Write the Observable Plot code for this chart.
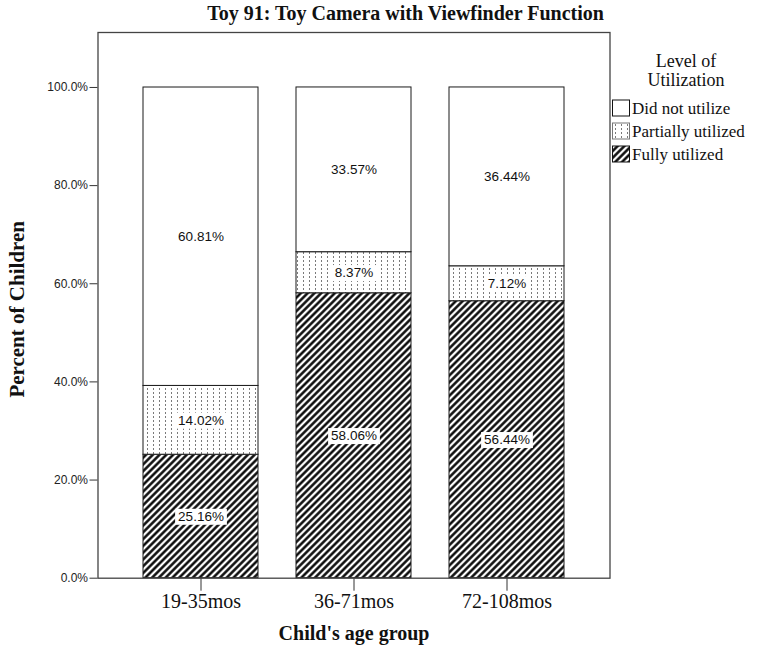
<!DOCTYPE html>
<html>
<head>
<meta charset="utf-8">
<script src="https://cdn.jsdelivr.net/npm/d3@7"></script>
<script src="https://cdn.jsdelivr.net/npm/@observablehq/plot@0.6"></script>
<style>
  body { margin: 0; background: #fff; }
  #chart { width: 760px; height: 650px; }
</style>
</head>
<body>
<div id="chart"></div>
<script>
// Age groups on the x axis
const ageGroups = ["19-35mos", "36-71mos", "72-108mos"];
// Stack order from the baseline up
const levels = ["Fully utilized", "Partially utilized", "Did not utilize"];
// Percent of children per age group, one array per level
const fullyUtilized = [25.16, 58.06, 56.44];
const partiallyUtilized = [14.02, 8.37, 7.12];
const didNotUtilize = [60.81, 33.57, 36.44];
// Axis ticks
const yTicks = [0, 20, 40, 60, 80, 100];
// Legend lists levels top-down
const legendOrder = ["Did not utilize", "Partially utilized", "Fully utilized"];

const titleText = "Toy 91: Toy Camera with Viewfinder Function";
const legendTitle = ["Level of", "Utilization"];
const yLabel = "Percent of Children";
const xLabel = "Child's age group";

const patternFill = {
  "Fully utilized": "url(#hatch)",
  "Partially utilized": "url(#dots)",
  "Did not utilize": "white"
};

const seriesByLevel = {
  "Fully utilized": fullyUtilized,
  "Partially utilized": partiallyUtilized,
  "Did not utilize": didNotUtilize
};

const rows = [];
ageGroups.forEach((age, i) => {
  levels.forEach(level => rows.push({age, level, value: seriesByLevel[level][i]}));
});

const serif = "'Liberation Serif', 'Times New Roman', serif";
const sans = "'Liberation Sans', Arial, sans-serif";

const chart = Plot.plot({
  width: 760,
  height: 650,
  marginLeft: 97.5,
  marginRight: 150.5,
  marginTop: 32,
  marginBottom: 72.3,
  style: {background: "white", fontFamily: sans, color: "#111"},
  x: {domain: ageGroups, paddingInner: 0.247, paddingOuter: 0.286, axis: null},
  y: {domain: [0, 111.2], axis: null},
  color: {type: "identity"},
  marks: [
    Plot.barY(rows, Plot.stackY({
      x: "age", y: "value", order: null,
      fill: d => patternFill[d.level],
      stroke: "#1a1a1a", strokeWidth: 1
    })),
    Plot.text(rows, Plot.stackY({
      x: "age", y: "value", order: null,
      text: d => d.value.toFixed(2) + "%",
      fontSize: 13.5, fill: "#111", className: "seg-label"
    })),
    Plot.axisY({
      ticks: yTicks, tickFormat: d => d.toFixed(1) + "%",
      tickSize: 8, tickPadding: 2, fontSize: 12, label: null,
      stroke: "#333", fill: "#222"
    }),
    Plot.axisX({
      tickSize: 13, tickPadding: 3, fontSize: 20, fontFamily: serif,
      label: null, stroke: "#333", fill: "#111"
    }),
    Plot.frame({stroke: "#444", strokeWidth: 1.3}),
    Plot.text([yLabel], {
      frameAnchor: "left", rotate: -90, dx: -80.5, dy: 4,
      fontFamily: serif, fontWeight: "bold", fontSize: 21,
      textAnchor: "middle", lineAnchor: "middle", fill: "#111"
    }),
    Plot.text([xLabel], {
      frameAnchor: "bottom", dy: 55, lineAnchor: "middle", textAnchor: "middle",
      fontFamily: serif, fontWeight: "bold", fontSize: 20, fill: "#111"
    }),
    Plot.text([titleText], {
      frameAnchor: "top", dx: 51.5, dy: -18.5, lineAnchor: "middle", textAnchor: "middle",
      fontFamily: serif, fontWeight: "bold", fontSize: 20, fill: "#111"
    })
  ]
});

document.getElementById("chart").appendChild(chart);

const svg = d3.select(chart);

// Fill patterns for the stacked segments
const defs = svg.insert("defs", ":first-child");
const hatch = defs.append("pattern")
  .attr("id", "hatch").attr("patternUnits", "userSpaceOnUse")
  .attr("width", 4.8).attr("height", 10).attr("patternTransform", "rotate(45)");
hatch.append("rect").attr("width", 4.8).attr("height", 10).attr("fill", "white");
hatch.append("line").attr("x1", 2.4).attr("x2", 2.4).attr("y1", -1).attr("y2", 11)
  .attr("stroke", "#000").attr("stroke-width", 2.4);

const dots = defs.append("pattern")
  .attr("id", "dots").attr("patternUnits", "userSpaceOnUse")
  .attr("width", 6).attr("height", 4);
dots.append("rect").attr("width", 6).attr("height", 4).attr("fill", "white");
dots.append("rect").attr("x", 3).attr("y", 0).attr("width", 1).attr("height", 2).attr("fill", "#7a7a7a");

// White boxes behind segment labels
svg.selectAll(".seg-label text").each(function () {
  const b = this.getBBox();
  const t = this.getAttribute("transform");
  d3.select(this.parentNode).insert("rect", () => this)
    .attr("transform", t)
    .attr("x", b.x - 3).attr("y", b.y)
    .attr("width", b.width + 6).attr("height", b.height + 1)
    .attr("fill", "white");
});

// Legend
const legend = svg.append("g").attr("font-family", serif).attr("fill", "#111");
legend.append("text")
  .attr("x", 686).attr("y", 67).attr("text-anchor", "middle").attr("font-size", 18)
  .text(legendTitle[0]);
legend.append("text")
  .attr("x", 686).attr("y", 86).attr("text-anchor", "middle").attr("font-size", 18)
  .text(legendTitle[1]);
legendOrder.forEach((level, i) => {
  const y0 = 100 + i * 23;
  legend.append("rect")
    .attr("x", 612.5).attr("y", y0).attr("width", 17).attr("height", 16)
    .attr("fill", patternFill[level])
    .attr("stroke", level === "Partially utilized" ? "#777" : "#111").attr("stroke-width", 1);
  legend.append("text")
    .attr("x", 632).attr("y", y0 + 14).attr("font-size", 17).attr("text-anchor", "start")
    .text(level);
});
</script>
</body>
</html>
